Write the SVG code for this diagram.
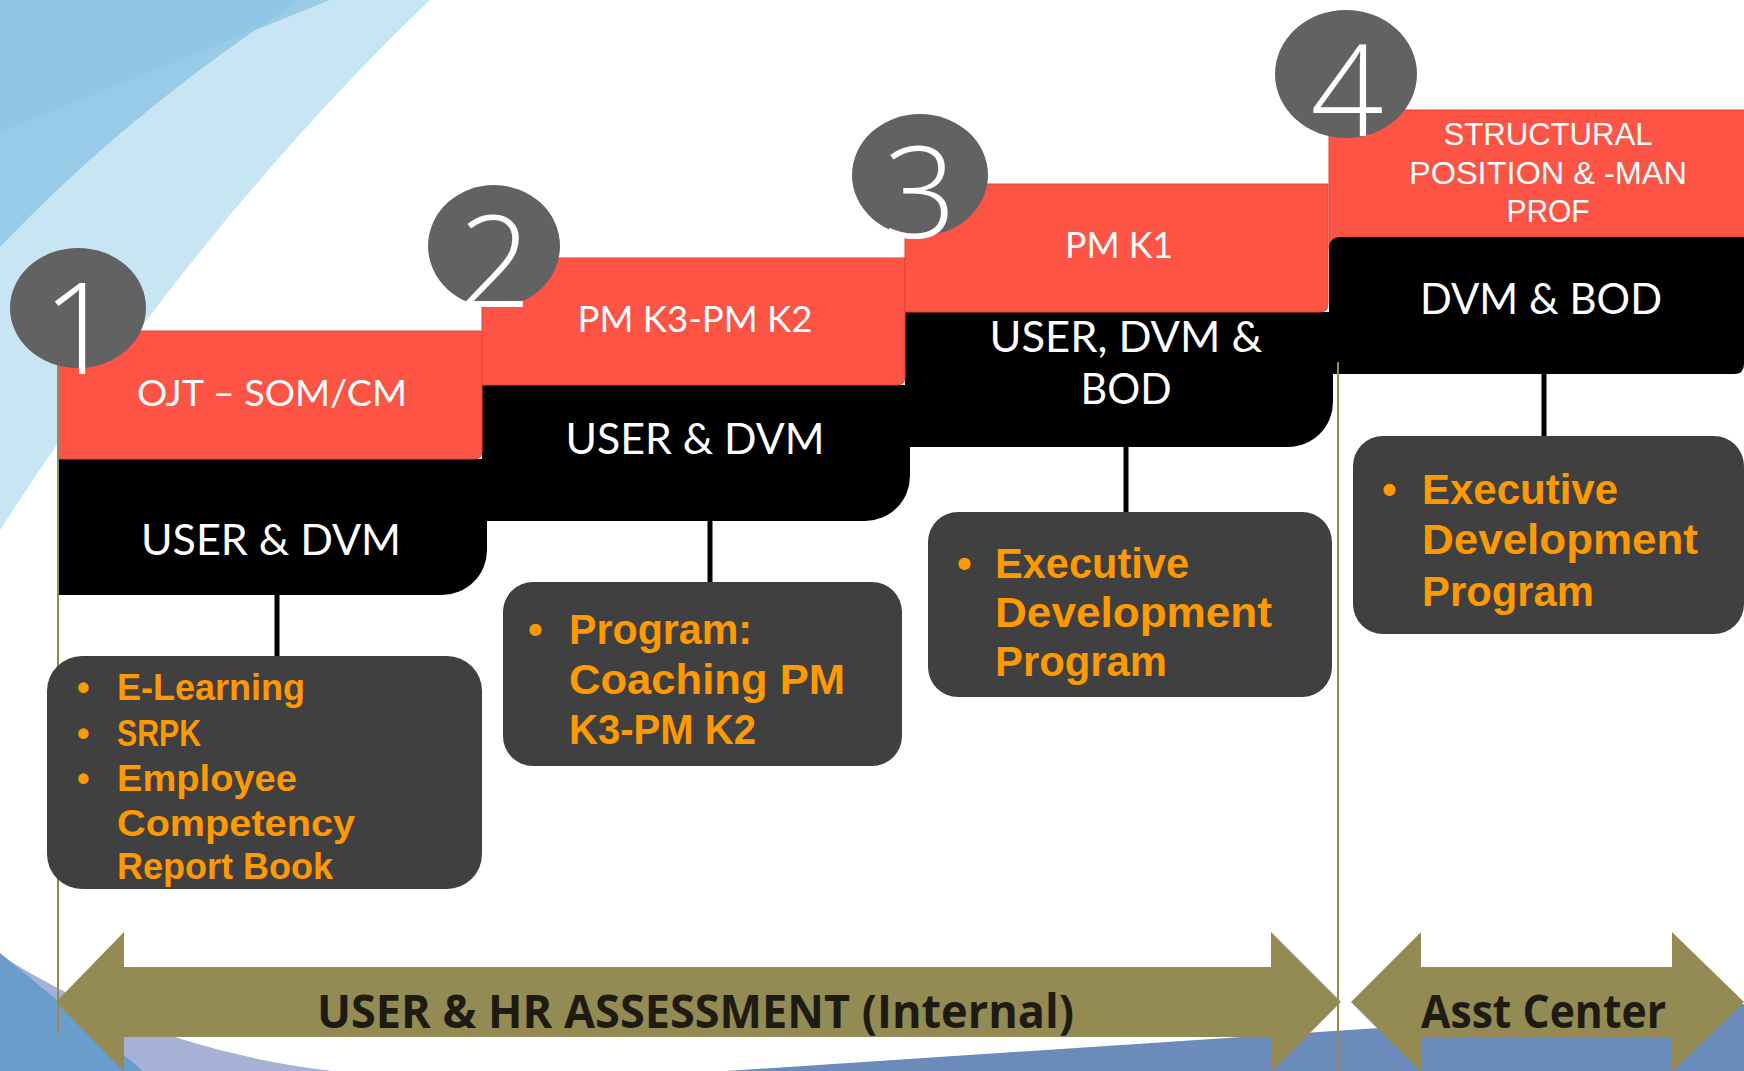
<svg xmlns="http://www.w3.org/2000/svg" width="1744" height="1071" viewBox="0 0 1744 1071">
<style>
.red{fill:#FE5446;stroke:#E04436;stroke-width:1}
.blk{fill:#000}
.circ{fill:#626262}
.digit{font-family:"Open Sans","Liberation Sans",sans-serif;font-weight:300;font-size:128px;fill:#fff;text-anchor:middle}
.hdr{font-family:"Lato","Liberation Sans",sans-serif;font-weight:400;font-size:36px;fill:#fff;text-anchor:middle}
.hdr4{font-family:"Liberation Sans","Arial",sans-serif;font-weight:400;font-size:31px;fill:#fff;text-anchor:middle}
.sub{font-family:"Lato","Liberation Sans",sans-serif;font-weight:400;font-size:42px;fill:#fff;text-anchor:middle}
.prog{fill:#404040}
.or{font-family:"Liberation Sans","Arial",sans-serif;font-weight:700;font-size:42px;fill:#FF9900}
.or1{font-size:36px}
.conn{stroke:#000;stroke-width:5;fill:none}
.vline{stroke:#948A54;stroke-width:2;fill:none}
.arrow{fill:#948A54}
.atxt{font-family:"Open Sans","Liberation Sans",sans-serif;font-weight:700;font-size:46px;fill:#1E1C12}
</style>
<g id="background">
<rect x="0" y="0" width="1744" height="1071" fill="#ffffff"/>
<path d="M0,0 L430,0 Q200,220 0,530 Z" fill="#C7E5F3"/>
<path d="M0,0 L300,0 Q130,110 0,247 Z" fill="#97CBE7"/>
<path d="M0,0 L330,0 L0,132 Z" fill="#8FC5E3" opacity="0.8"/>
<path d="M0,955 Q150,1050 333,1071 L0,1071 Z" fill="#A5B1D5"/>
<path d="M0,953 L143,1071 L0,1071 Z" fill="#6A9DCB"/>
<path d="M726,1071 L1744,1004 L1744,1071 Z" fill="#6B8BBA"/>
</g>
<g id="arrows">
<path class="arrow" d="M56,1002 L124,932 L124,967 L1271,967 L1271,932 L1341,1002 L1271,1072 L1271,1037 L124,1037 L124,1072 Z"/>
<path class="arrow" d="M1351,1002 L1421,932 L1421,967 L1672,967 L1672,932 L1744,1002 L1672,1072 L1672,1037 L1421,1037 L1421,1072 Z"/>
<text class="atxt" x="317" y="1028" textLength="757" lengthAdjust="spacingAndGlyphs">USER &amp; HR ASSESSMENT (Internal)</text>
<text class="atxt" x="1421" y="1028" textLength="245" lengthAdjust="spacingAndGlyphs">Asst Center</text>
</g>
<g id="step4-red">
<rect class="red" x="1329" y="110" width="420" height="140"/>
</g>
<g id="step1">
<path class="blk" d="M58,459 H487 V550 A45,45 0 0 1 442,595 H58 Z"/>
</g>
<g id="step2">
<path class="blk" d="M482,385 H910 V476 A45,45 0 0 1 865,521 H482 Z"/>
</g>
<g id="step3">
<path class="blk" d="M905,312 H1333 V402 A45,45 0 0 1 1288,447 H905 Z"/>
</g>
<g id="step4">
<path class="blk" d="M1341,237 H1744 V364 Q1744,374 1734,374 H1329 V249 Q1329,237 1341,237 Z"/>
</g>
<g id="red-headers">
<path class="red" d="M58,331 H482 V451 Q482,459 474,459 H58 Z"/>
<path class="red" d="M482,258 H905 V377 Q905,385 897,385 H482 Z"/>
<path class="red" d="M905,184 H1328 V304 Q1328,312 1320,312 H905 Z"/>
</g>
<g id="dividers">
<line class="vline" x1="58" y1="335" x2="58" y2="1033"/>
<line class="vline" x1="1338" y1="362" x2="1338" y2="1071"/>
</g>
<g id="connectors">
<line class="conn" x1="277" y1="595" x2="277" y2="658"/>
<line class="conn" x1="710" y1="521" x2="710" y2="584"/>
<line class="conn" x1="1126" y1="447" x2="1126" y2="514"/>
<line class="conn" x1="1544" y1="374" x2="1544" y2="438"/>
</g>
<g id="header-texts">
<text class="hdr" x="272" y="406" textLength="270" lengthAdjust="spacingAndGlyphs">OJT – SOM/CM</text>
<text class="hdr" x="695" y="332" textLength="235" lengthAdjust="spacingAndGlyphs">PM K3-PM K2</text>
<text class="hdr" x="1119" y="258" textLength="108" lengthAdjust="spacingAndGlyphs">PM K1</text>
<text class="hdr4" x="1548" y="145" textLength="209" lengthAdjust="spacingAndGlyphs">STRUCTURAL</text>
<text class="hdr4" x="1548" y="184" textLength="278" lengthAdjust="spacingAndGlyphs">POSITION &amp; -MAN</text>
<text class="hdr4" x="1548" y="222" textLength="83" lengthAdjust="spacingAndGlyphs">PROF</text>
<text class="sub" x="271" y="555" textLength="260" lengthAdjust="spacingAndGlyphs">USER &amp; DVM</text>
<text class="sub" x="695" y="454" textLength="259" lengthAdjust="spacingAndGlyphs">USER &amp; DVM</text>
<text class="sub" font-size="40" x="1126" y="352" textLength="273" lengthAdjust="spacingAndGlyphs">USER, DVM &amp;</text>
<text class="sub" font-size="40" x="1126" y="404" textLength="91" lengthAdjust="spacingAndGlyphs">BOD</text>
<text class="sub" x="1541" y="314" textLength="242" lengthAdjust="spacingAndGlyphs">DVM &amp; BOD</text>
</g>
<g id="program1">
<rect class="prog" x="47" y="656" width="435" height="233" rx="35"/>
<text class="or or1" x="77" y="700">•</text>
<text class="or or1" x="77" y="746">•</text>
<text class="or or1" x="77" y="791">•</text>
<text class="or or1" x="117" y="700" textLength="188" lengthAdjust="spacingAndGlyphs">E-Learning</text>
<text class="or or1" x="117" y="746" textLength="84" lengthAdjust="spacingAndGlyphs">SRPK</text>
<text class="or or1" x="117" y="791" textLength="180" lengthAdjust="spacingAndGlyphs">Employee</text>
<text class="or or1" x="117" y="836" textLength="238" lengthAdjust="spacingAndGlyphs">Competency</text>
<text class="or or1" x="117" y="879" textLength="216" lengthAdjust="spacingAndGlyphs">Report Book</text>
</g>
<g id="program2">
<rect class="prog" x="503" y="582" width="399" height="184" rx="30"/>
<text class="or" x="528" y="644">•</text>
<text class="or" x="569" y="644" textLength="183" lengthAdjust="spacingAndGlyphs">Program:</text>
<text class="or" x="569" y="694" textLength="276" lengthAdjust="spacingAndGlyphs">Coaching PM</text>
<text class="or" x="569" y="744" textLength="187" lengthAdjust="spacingAndGlyphs">K3-PM K2</text>
</g>
<g id="program3">
<rect class="prog" x="928" y="512" width="404" height="185" rx="30"/>
<text class="or" x="957" y="578">•</text>
<text class="or" x="995" y="578" textLength="194" lengthAdjust="spacingAndGlyphs">Executive</text>
<text class="or" x="995" y="627" textLength="277" lengthAdjust="spacingAndGlyphs">Development</text>
<text class="or" x="995" y="676" textLength="172" lengthAdjust="spacingAndGlyphs">Program</text>
</g>
<g id="program4">
<rect class="prog" x="1353" y="436" width="391" height="198" rx="30"/>
<text class="or" x="1382" y="504">•</text>
<text class="or" x="1422" y="504" textLength="196" lengthAdjust="spacingAndGlyphs">Executive</text>
<text class="or" x="1422" y="554" textLength="276" lengthAdjust="spacingAndGlyphs">Development</text>
<text class="or" x="1422" y="606" textLength="172" lengthAdjust="spacingAndGlyphs">Program</text>
</g>
<g id="badges">
<ellipse class="circ" cx="78" cy="308" rx="68" ry="60"/>
<ellipse class="circ" cx="494" cy="246" rx="66" ry="61"/>
<ellipse class="circ" cx="920" cy="175" rx="68" ry="61"/>
<ellipse class="circ" cx="1346" cy="74" rx="71" ry="64"/>
<text class="digit" x="79" y="374">1</text>
<text class="digit" x="495" y="307">2</text>
<text class="digit" x="920" y="238">3</text>
<text class="digit" x="1347" y="136">4</text>
</g>
</svg>
